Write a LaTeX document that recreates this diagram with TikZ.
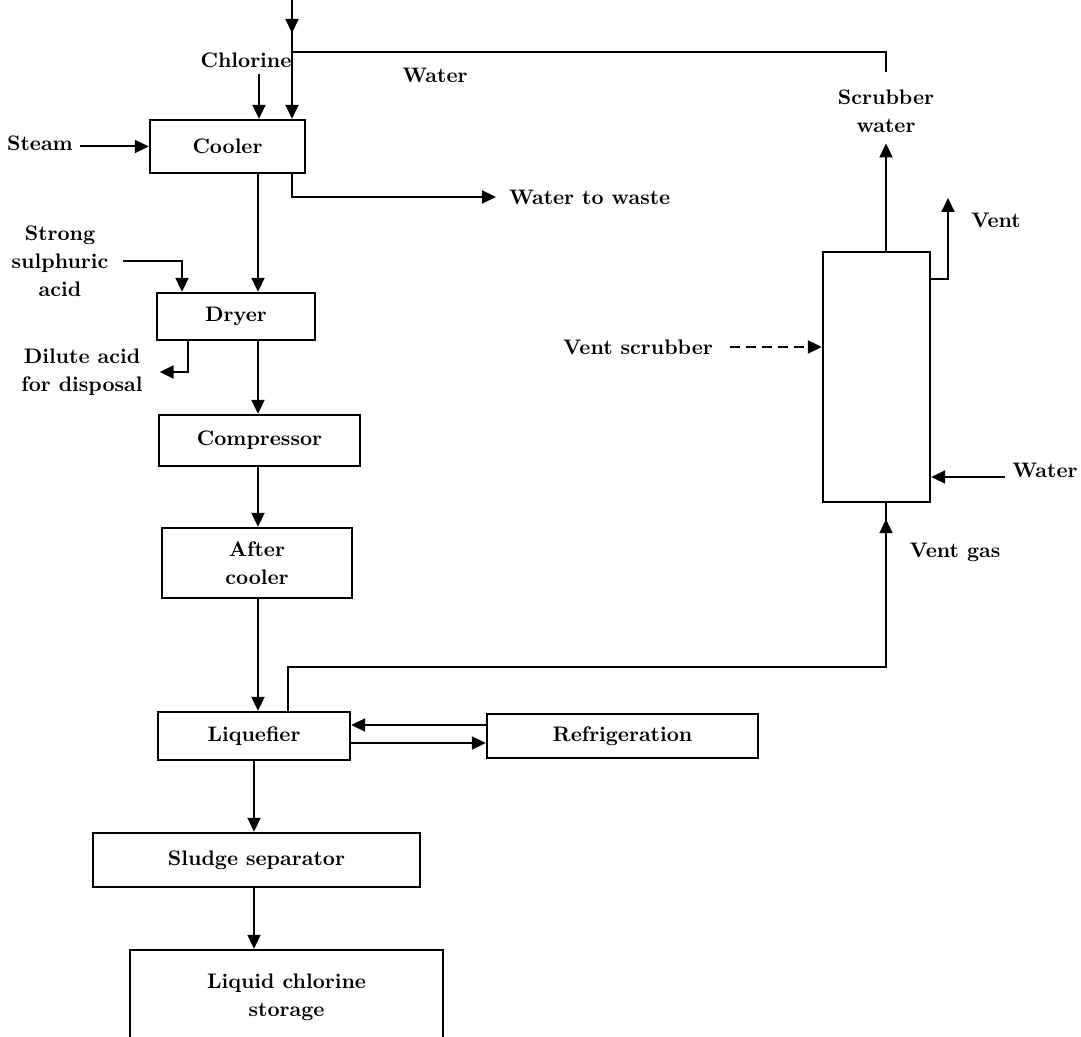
\documentclass[tikz,border=0pt]{standalone}
\usepackage{amsmath}
\usetikzlibrary{arrows, arrows.meta}
\usetikzlibrary{calc}

\begin{document}
\begin{tikzpicture}[x=0.5pt, y=-0.5pt,
    every node/.style={font=\bfseries\fontsize{10.5}{14}\selectfont, align=center},
    box/.style={draw, line width=1.2pt, inner sep=0pt},
    line/.style={line width=1pt},
    flow/.style={line width=1pt, -{Triangle[length=7pt, width=6.5pt]}}]
      \useasboundingbox (0,0) rectangle (1081,1037);
      % columns the connectors run along
      \coordinate (mainx) at (258,0);
      \coordinate (lowx) at (254,0);
      \coordinate (chlx) at (259,0);
      \coordinate (acidx) at (182,0);
      \coordinate (dilx) at (188,0);
      \coordinate (scrx) at (886,0);
      \coordinate (wtop) at (292,0);
      \coordinate (wsplit) at (292,52);
      \coordinate (ventx) at (288,667);
      \coordinate (vgturn) at (886,667);
      \coordinate (ventout) at (948,198);

      % process units
      \node[box, minimum width=77.5pt, minimum height=26.5pt] (cooler) at (227.5,146.5) {Cooler};
      \node[box, minimum width=79pt, minimum height=23.5pt] (dryer) at (236,316.5) {Dryer};
      \node[box, minimum width=100.5pt, minimum height=25.5pt] (comp) at (259.5,440.5) {Compressor};
      \node[box, minimum width=95pt, minimum height=35pt] (aftcool) at (257,563) {After\\cooler};
      \node[box, minimum width=96pt, minimum height=24pt] (liq) at (254,736) {Liquefier};
      \node[box, minimum width=135.5pt, minimum height=22pt] (refrig) at (622.5,736) {Refrigeration};
      \node[box, minimum width=163.5pt, minimum height=27pt] (sludge) at (256.5,860) {Sludge separator};
      \node[box, minimum width=156.5pt, minimum height=47.5pt] (store) at (286.5,997.5) {Liquid chlorine\\storage};
      \node[box, minimum width=53.5pt, minimum height=125pt] (scrub) at (876.5,377) {};

      % stream labels
      \node (chl) at (246,60) {Chlorine};
      \node (wlbl) at (435,75) {Water};
      \node (steam) at (40,143) {Steam};
      \node[anchor=west] (waste) at (502,197) {Water to waste};
      \node (acid) at (60,261) {Strong\\sulphuric\\acid};
      \node (dil) at (82,372) {Dilute acid\\for disposal};
      \node (scrw) at (886,111) {Scrubber\\water};
      \node (vent) at (996,220) {Vent};
      \node (vscr) at (638,347) {Vent scrubber};
      \node (wat2) at (1045,470) {Water};
      \node (vgas) at (955,552) {Vent gas};

      % water feed and the branch to the scrubber
      \draw[line] (wtop) -- (wsplit);
      \draw[flow] (wtop) -- ++(0,33);
      \draw[line] (wsplit) -| ([yshift=5.5pt]scrw.north);
      \draw[flow] (wsplit) -- (wsplit |- cooler.north);
      \draw[flow] (chlx |- chl.south) -- (chlx |- cooler.north);
      \draw[flow] (steam.east |- cooler.west) -- (cooler.west);
      \draw[flow, shorten >=3pt] (wsplit |- cooler.south) |- (waste.west);

      % main chlorine train
      \draw[flow] (mainx |- cooler.south) -- (mainx |- dryer.north);
      \draw[flow, shorten <=4pt] (acid.east) -| (acidx |- dryer.north);
      \draw[flow, shorten >=5pt] (dilx |- dryer.south) |- (dil.east);
      \draw[flow] (mainx |- dryer.south) -- (mainx |- comp.north);
      \draw[flow] (mainx |- comp.south) -- (mainx |- aftcool.north);
      \draw[flow] (mainx |- aftcool.south) -- (mainx |- liq.north);
      \draw[flow] ([yshift=5.5pt]refrig.west) -- ([yshift=5.5pt]refrig.west -| liq.east);
      \draw[flow] ([yshift=-3.5pt]liq.east) -- ([yshift=-3.5pt]liq.east -| refrig.west);
      \draw[flow] (lowx |- liq.south) -- (lowx |- sludge.north);
      \draw[flow] (lowx |- sludge.south) -- (lowx |- store.north);

      % vent gas to the scrubber
      \draw[line] (ventx |- liq.north) -- (ventx) -- (vgturn) -- (scrx |- scrub.south);
      \draw[flow] (vgturn) -- ($(scrx |- scrub.south)+(0,16)$);
      \draw[flow, shorten >=2pt] (scrx |- scrub.north) -- (scrw.south);
      \draw[flow] ([yshift=-14pt]scrub.north east) -| (ventout);
      \draw[flow, dashed, dash pattern=on 5pt off 3pt, shorten <=5pt] (vscr.east) -- (scrub.west |- vscr.east);
      \draw[flow] ([yshift=-3.5pt]wat2.west) -- ([yshift=-3.5pt]wat2.west -| scrub.east);
    \end{tikzpicture}
\end{document}
